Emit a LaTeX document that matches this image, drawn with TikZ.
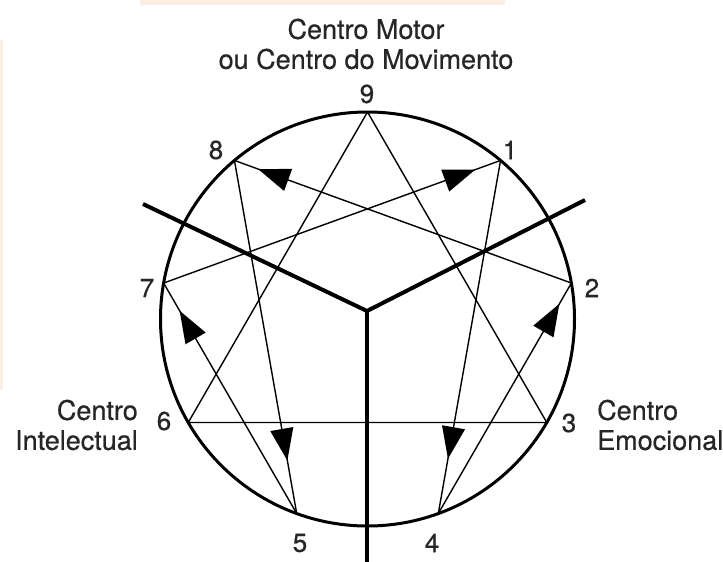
\documentclass[tikz,border=0pt]{standalone}
\usepackage{fontspec}
\setmainfont{TeX Gyre Heros}
\newfontfamily\labfont{TeX Gyre Heros}[FakeBold=0.6]
\usetikzlibrary{arrows.meta,decorations.markings,calc}
\definecolor{peach}{RGB}{253,238,229}
\begin{document}
\begin{tikzpicture}[x=1pt,y=-1pt,
  thinline/.style={line width=1.4pt},
  arrowline/.style={thinline, postaction={decorate},
    decoration={markings, mark=at position #1 with {\arrow{Triangle[length=32pt,width=23pt]}}}},
  thickline/.style={line width=4pt, line join=miter},
  ring/.style={line width=3pt},
  lbl/.style={font=\labfont\fontsize{27}{30}\selectfont, inner sep=0pt, text=black!85},
  num/.style={font=\labfont\fontsize{26}{30}\selectfont, inner sep=0pt, text=black!85}]
\useasboundingbox (0,0) rectangle (723,562);
% faint scan artefacts
\fill[peach] (140,0) rectangle (505,5);
\fill[peach] (0,40) rectangle (3,390);
% circle and points
\coordinate (c) at (367.5,319);
\foreach \n/\a in {9/-90,1/-50,2/-10,3/30,4/70,5/110,6/150,7/190,8/230}
  \coordinate (p\n) at ($(c)+(\a:207)$);
\draw[ring] (c) circle[radius=207pt];
% centres division
\coordinate (j) at (367,311);
\coordinate (ul) at (143,204);
\coordinate (ur) at (585,200);
\coordinate (bot) at (367,562);
\draw[thickline] (ul) -- (j) -- (ur);
\draw[thickline] (j) -- (bot);
% triangle
\draw[thinline, line join=miter] (p9) -- (p3) -- (p6) -- cycle;
% hexad with arrows
\draw[arrowline=0.845] (p1) -- (p4);
\draw[arrowline=0.91] (p4) -- (p2);
\draw[arrowline=0.93] (p2) -- (p8);
\draw[arrowline=0.85] (p8) -- (p5);
\draw[arrowline=0.88] (p5) -- (p7);
\draw[arrowline=0.925] (p7) -- (p1);
% numbers
\node[num] (n9) at (367,94) {9};
\node[num] (n1) at (510,150) {1};
\node[num] (n2) at (592,288) {2};
\node[num] (n3) at (569,423) {3};
\node[num] (n4) at (432,543) {4};
\node[num] (n5) at (300,543) {5};
\node[num] (n6) at (164,421) {6};
\node[num] (n7) at (147,288) {7};
\node[num] (n8) at (216,150) {8};
% labels
\node[lbl, align=center] (motor) at (366,44) {Centro Motor\\ou Centro do Movimento};
\node[lbl, align=right, anchor=east] (intel) at (138,425) {Centro\\Intelectual};
\node[lbl, align=left, anchor=west] (emoc) at (597,425) {Centro\\Emocional};
\end{tikzpicture}
\end{document}
